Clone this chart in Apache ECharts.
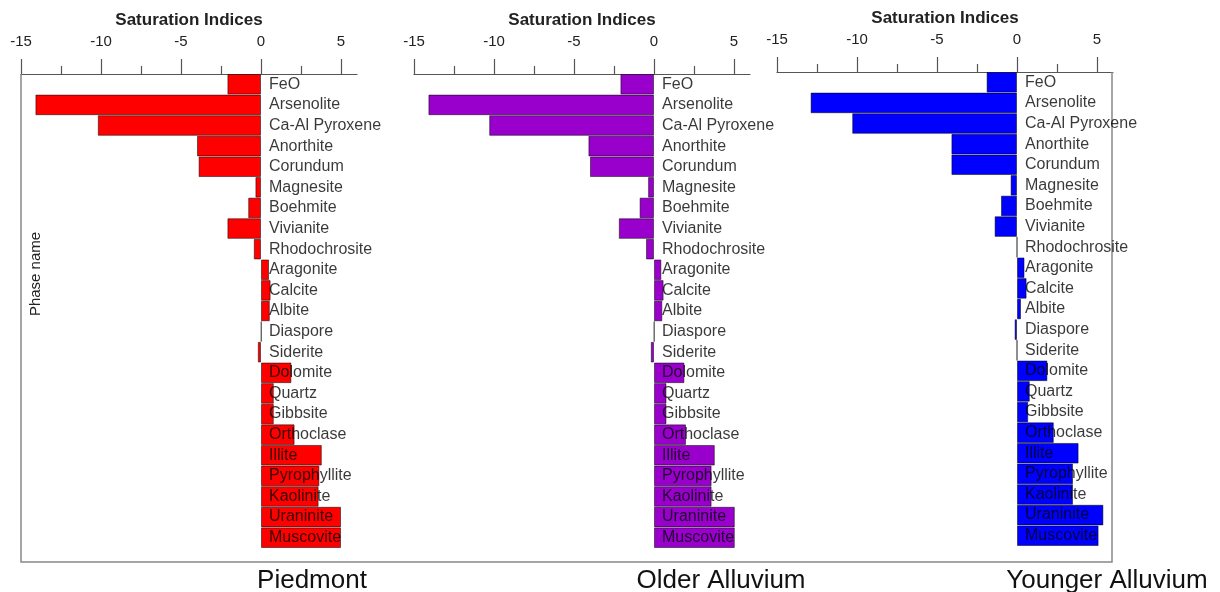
<!DOCTYPE html>
<html>
<head>
<meta charset="utf-8">
<script src="https://cdn.jsdelivr.net/npm/echarts@6/dist/echarts.min.js"></script>
<style>html,body{margin:0;padding:0;background:#fff}#c{width:1220px;height:592px}</style>
</head>
<body>
<div id="c"></div>
<script>
const categories = ['FeO','Arsenolite','Ca-Al Pyroxene','Anorthite','Corundum','Magnesite','Boehmite','Vivianite','Rhodochrosite','Aragonite','Calcite','Albite','Diaspore','Siderite','Dolomite','Quartz','Gibbsite','Orthoclase','Illite','Pyrophyllite','Kaolinite','Uraninite','Muscovite'];
const piedmont = [-2.1,-14.1,-10.2,-4.0,-3.9,-0.35,-0.8,-2.1,-0.45,0.5,0.6,0.55,0.03,-0.2,1.9,0.8,0.8,2.1,3.8,3.65,3.6,5.0,5.0];
const olderAlluvium = [-2.1,-14.1,-10.3,-4.1,-4.0,-0.37,-0.9,-2.2,-0.5,0.46,0.6,0.52,0.02,-0.2,1.9,0.78,0.78,2.0,3.8,3.6,3.6,5.05,5.05];
const youngerAlluvium = [-1.9,-12.9,-10.3,-4.1,-4.1,-0.4,-1.0,-1.4,0,0.47,0.6,0.25,-0.15,0,1.9,0.8,0.7,2.3,3.85,3.5,3.5,5.4,5.1];
const majorTicks = [-15,-10,-5,0,5];
const minorTicks = [-12.5,-7.5,-2.5,2.5];
const panelNames = ['Piedmont','Older Alluvium','Younger Alluvium'];
const axisTitle = 'Saturation Indices';
const yTitle = 'Phase name';

const FONT = '"Liberation Sans", Arial, sans-serif';
const X_MIN = -15, X_MAX = 6, GRID_W = 336;
const panels = [
  {data: piedmont, color: '#ff0000', left: 21, top: 74, titleX: 307},
  {data: olderAlluvium, color: '#9900cc', left: 414, top: 74, titleX: 716},
  {data: youngerAlluvium, color: '#0000ff', left: 777, top: 72, titleX: 1102}
];
const grid = [], xAxis = [], yAxis = [], series = [], title = [];
panels.forEach((p, i) => {
  grid.push({left: p.left, top: p.top, width: GRID_W, height: 474, containLabel: false});
  xAxis.push({
    type: 'value', gridIndex: i, position: 'top', min: X_MIN, max: X_MAX,
    name: axisTitle, nameLocation: 'middle', nameGap: 45,
    nameTextStyle: {fontFamily: FONT, fontSize: 17, fontWeight: 'bold', color: '#222'},
    axisLine: {show: true, onZero: false, lineStyle: {color: '#555', width: 1.2}},
    axisTick: {show: true, length: 15, customValues: majorTicks, lineStyle: {color: '#555', width: 1.2}},
    axisLabel: {show: true, customValues: majorTicks, margin: 25, fontFamily: FONT, fontSize: 15, color: '#222'},
    splitLine: {show: false}
  });
  xAxis.push({
    type: 'value', gridIndex: i, position: 'top', min: X_MIN, max: X_MAX,
    axisLine: {show: false, onZero: false},
    axisTick: {show: true, length: 8, customValues: minorTicks, lineStyle: {color: '#555', width: 1.2}},
    axisLabel: {show: false},
    splitLine: {show: false}
  });
  yAxis.push({
    type: 'category', gridIndex: i, data: categories, inverse: true, z: 5,
    position: 'left',
    // shift the label axis inward so it sits on the zero line of the value axis
    offset: -GRID_W * (0 - X_MIN) / (X_MAX - X_MIN),
    axisLine: {show: false, onZero: false},
    axisTick: {show: false},
    axisLabel: {inside: true, interval: 0, margin: 8, fontFamily: FONT, fontSize: 16, color: 'rgba(0,0,0,0.78)'}
  });
  series.push({
    type: 'bar', xAxisIndex: i * 2, yAxisIndex: i, data: p.data,
    barCategoryGap: '0%', barWidth: '100%',
    itemStyle: {color: p.color, borderColor: 'rgba(0,0,0,0.5)', borderWidth: 1},
    silent: true, animation: false
  });
  title.push({
    text: panelNames[i], left: p.titleX, top: 563, textAlign: 'center',
    textStyle: {fontFamily: FONT, fontSize: 26, fontWeight: 'normal', color: '#111'}
  });
});

const chart = echarts.init(document.getElementById('c'), null, {renderer: 'canvas'});
chart.setOption({
  animation: false,
  title, grid, xAxis, yAxis, series,
  graphic: [
    {type: 'polyline', shape: {points: [[21, 74], [21, 562], [1112, 562], [1112, 72]]},
     style: {stroke: '#888', lineWidth: 1.5, fill: null}, z: 1},
    {type: 'text', x: 36, y: 274, rotation: Math.PI / 2,
     style: {text: yTitle, fontFamily: FONT, fontSize: 15, fill: '#222', textAlign: 'center', textVerticalAlign: 'middle'}}
  ]
});
</script>
</body>
</html>
